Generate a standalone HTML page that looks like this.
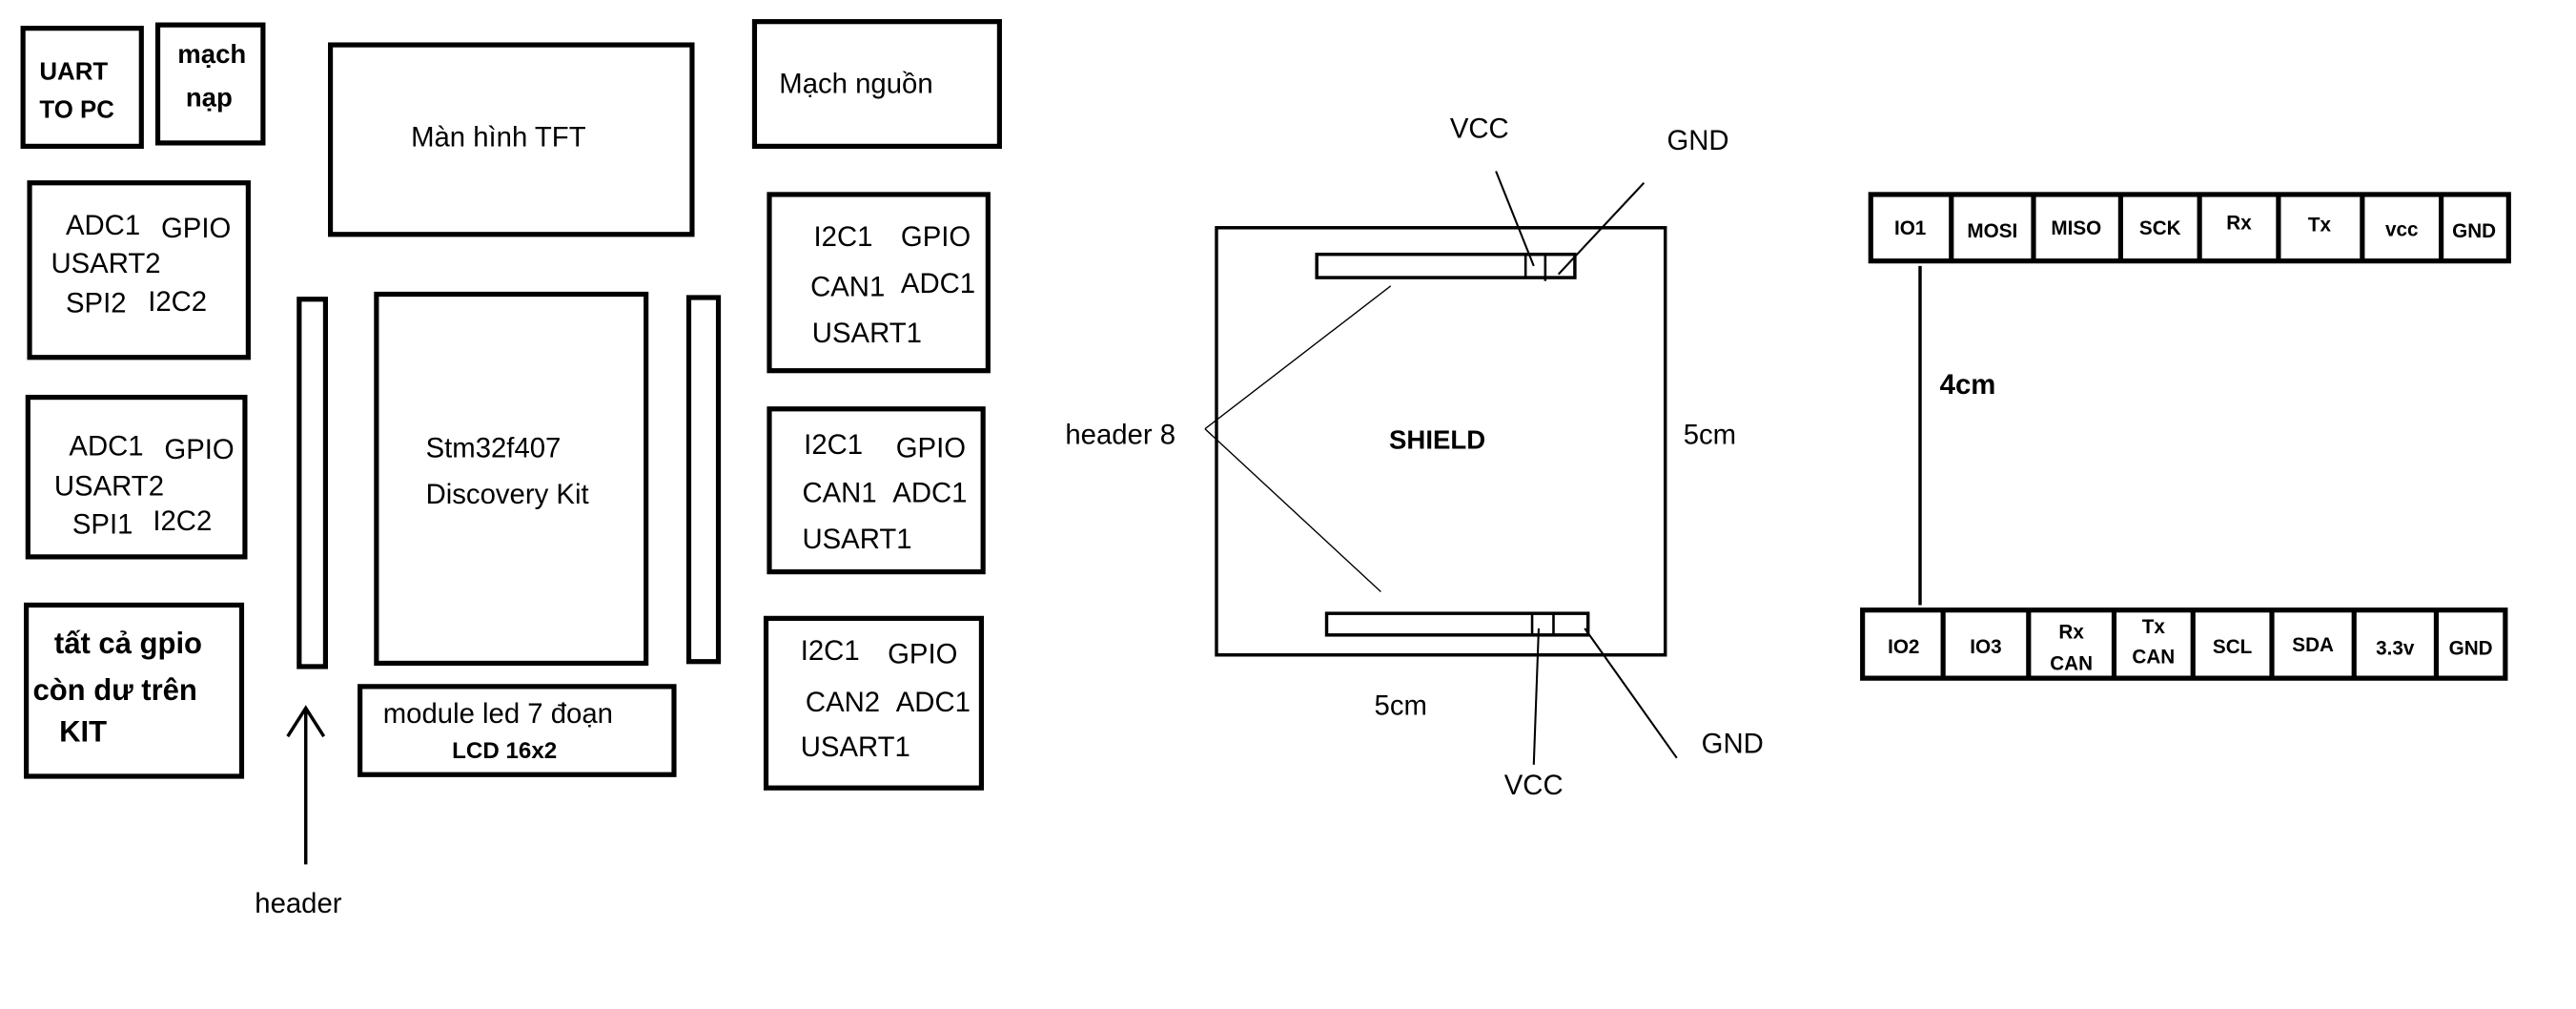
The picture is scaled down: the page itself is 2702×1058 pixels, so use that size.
<!DOCTYPE html>
<html><head><meta charset="utf-8"><style>
html,body{margin:0;padding:0;background:#fff}
svg{display:block}
text{font-family:"Liberation Sans",sans-serif;fill:#000}
.b{font-weight:bold}
.n{font-family:"Liberation Sans Narrow","Liberation Sans",sans-serif;font-weight:bold;font-size:12px}
</style></head><body>
<svg width="2702" height="1058" viewBox="0 0 1567 607" preserveAspectRatio="none" xmlns="http://www.w3.org/2000/svg">
<g fill="none" stroke="#000" stroke-width="3">
<rect x="14" y="17" width="72" height="71"/>
<rect x="96" y="15" width="64" height="71"/>
<rect x="201" y="27" width="220" height="114"/>
<rect x="459" y="13" width="149" height="75"/>
<rect x="18" y="110" width="133" height="105"/>
<rect x="17" y="239" width="132" height="96"/>
<rect x="16" y="364" width="131" height="103"/>
<rect x="182" y="180" width="16" height="221"/>
<rect x="419" y="179" width="18" height="219"/>
<rect x="229" y="177" width="164" height="222"/>
<rect x="219" y="413" width="191" height="53"/>
<rect x="468" y="117" width="133" height="106"/>
<rect x="468" y="246" width="130" height="98"/>
<rect x="466" y="372" width="131" height="102"/>
<path d="M186 520 V426 M175 443 L186 426 L197 443" stroke-width="2"/>
<rect x="740" y="137" width="273" height="257" stroke-width="2"/>
<rect x="801" y="153" width="157" height="14" stroke-width="2"/>
<rect x="807" y="369" width="159" height="13" stroke-width="2"/>
<path d="M928 153V167M940 153V169M932 369V382M945 369V382" stroke-width="1.5"/>
<path d="M733 258L846 172M733 258L840 356" stroke-width="0.8"/>
<path d="M910 103L933 160M1000 110L948 165M936 378L933 460M964 378L1020 456" stroke-width="1.2"/>
<rect x="1138" y="117" width="388" height="40"/>
<path d="M1187 117V157M1237 117V157M1290 117V157M1338 117V157M1386 117V157M1437 117V157M1485 117V157"/>
<rect x="1133" y="367" width="391" height="41"/>
<path d="M1182 367V408M1234 367V408M1286 367V408M1334 367V408M1382 367V408M1432 367V408M1482 367V408"/>
<path d="M1168 160V364" stroke-width="2"/>
</g>
<g font-size="15" class="b">
<text x="24" y="48" class="b">UART</text><text x="24" y="71" class="b">TO PC</text>
<text x="108" y="38" class="b" font-size="16">mạch</text><text x="113" y="64" class="b" font-size="16">nạp</text>
</g>
<g font-size="17">
<text x="250" y="88">Màn hình TFT</text>
<text x="474" y="56">Mạch nguồn</text>
<text x="40" y="141">ADC1</text><text x="98" y="143">GPIO</text><text x="31" y="164">USART2</text><text x="40" y="188">SPI2</text><text x="90" y="187">I2C2</text>
<text x="42" y="274">ADC1</text><text x="100" y="276">GPIO</text><text x="33" y="298">USART2</text><text x="44" y="321">SPI1</text><text x="93" y="319">I2C2</text>
<text x="259" y="275">Stm32f407</text><text x="259" y="303">Discovery Kit</text>
<text x="233" y="435">module led 7 đoạn</text>
<text x="495" y="148">I2C1</text><text x="548" y="148">GPIO</text><text x="493" y="178">CAN1</text><text x="548" y="176">ADC1</text><text x="494" y="206">USART1</text>
<text x="489" y="273">I2C1</text><text x="545" y="275">GPIO</text><text x="488" y="302">CAN1</text><text x="543" y="302">ADC1</text><text x="488" y="330">USART1</text>
<text x="487" y="397">I2C1</text><text x="540" y="399">GPIO</text><text x="490" y="428">CAN2</text><text x="545" y="428">ADC1</text><text x="487" y="455">USART1</text>
<text x="155" y="549">header</text>
<text x="648" y="267">header 8</text>
<text x="882" y="83">VCC</text><text x="1014" y="90">GND</text>
<text x="1024" y="267">5cm</text><text x="836" y="430">5cm</text>
<text x="915" y="478">VCC</text><text x="1035" y="453">GND</text>
</g>
<g font-size="18" class="b">
<text x="33" y="393" class="b">tất cả gpio</text><text x="20" y="421" class="b">còn dư trên</text><text x="36" y="446" class="b">KIT</text>
</g>
<text x="275" y="456" class="b" font-size="14">LCD 16x2</text>
<text x="845" y="270" class="b" font-size="16">SHIELD</text>
<text x="1180" y="237" class="b" font-size="17">4cm</text>
<g class="n" text-anchor="middle">
<text x="1162" y="141" class="n">IO1</text><text x="1212" y="143" class="n">MOSI</text><text x="1263" y="141" class="n">MISO</text><text x="1314" y="141" class="n">SCK</text><text x="1362" y="138" class="n">Rx</text><text x="1411" y="139" class="n">Tx</text><text x="1461" y="142" class="n">vcc</text><text x="1505" y="143" class="n">GND</text>
<text x="1158" y="393" class="n">IO2</text><text x="1208" y="393" class="n">IO3</text><text x="1260" y="384" class="n">Rx</text><text x="1260" y="403" class="n">CAN</text><text x="1310" y="381" class="n">Tx</text><text x="1310" y="399" class="n">CAN</text><text x="1358" y="393" class="n">SCL</text><text x="1407" y="392" class="n">SDA</text><text x="1457" y="394" class="n" font-size="15">3.3v</text><text x="1503" y="394" class="n">GND</text>
</g>
</svg>
</body></html>
